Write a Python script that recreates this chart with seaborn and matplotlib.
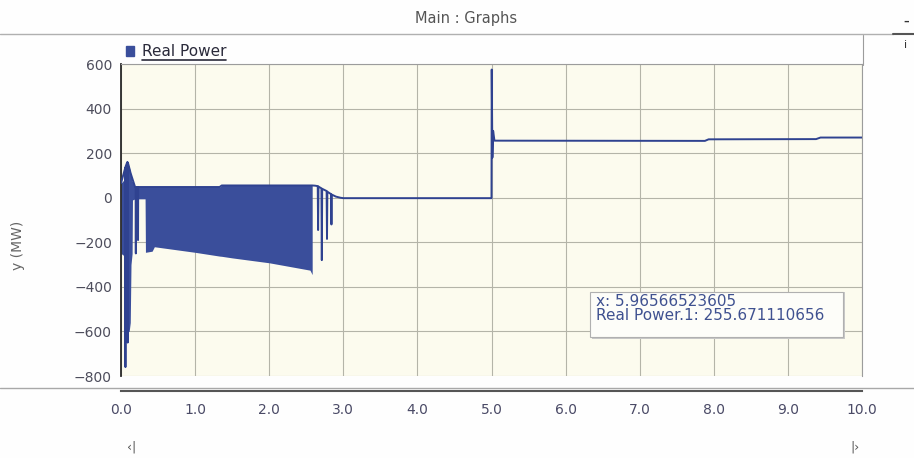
import matplotlib
matplotlib.use("Agg")
import matplotlib.pyplot as plt
from matplotlib.lines import Line2D
from matplotlib.patches import Patch, Rectangle
from matplotlib.ticker import FormatStrFormatter
import pandas as pd
import seaborn as sns

# ---- data -------------------------------------------------------------
# Real power trace: time (s) and power (MW), including the switching spikes
time_s = [0.000, 0.058, 0.060, 0.062, 0.085, 0.090, 0.093, 0.130, 0.190,
          0.198, 0.200, 0.202, 0.228, 0.230, 0.232, 0.330, 1.330, 1.360,
          2.580, 2.620, 2.655, 2.660, 2.665, 2.705, 2.710, 2.715, 2.775,
          2.780, 2.785, 2.835, 2.840, 2.845, 2.900, 2.960, 3.000, 5.000,
          5.003, 5.012, 5.022, 5.040, 5.96566523605, 7.880, 7.930, 9.380,
          9.440, 10.000]
power_mw = [65, 135, -760, 140, 160, -650, 158, 110, 48,
            48, -250, 48, 48, -190, 48, 48, 48, 55,
            55, 54, 52, -145, 50, 42, -280, 40, 30,
            -185, 27, 16, -120, 14, 5, 0, -2, -2,
            575, 180, 300, 256, 255.671110656, 255, 262, 263,
            270, 270]

# Envelope of the fast oscillation during the fault period
band_t = [0.00, 0.04, 0.055, 0.07, 0.085, 0.11, 0.125, 0.135, 0.15, 0.155,
          0.19, 0.325, 0.33, 0.42, 0.45, 1.00, 1.33, 1.36, 1.50, 2.00,
          2.55, 2.58]
band_hi = [65, 80, 130, 150, 160, 140, 120, 100, 75, 72,
           48, 48, 48, 48, 48, 48, 48, 55, 55, 55,
           55, 55]
band_lo = [-250, -260, -560, -600, -600, -600, -560, -300, -250, -10,
           -5, -5, -245, -240, -220, -245, -262, -263, -270, -292,
           -325, -345]

# Cursor read-out
cursor_x = 5.96566523605
cursor_y = 255.671110656

x_ticks = [0, 1, 2, 3, 4, 5, 6, 7, 8, 9, 10]
y_ticks = [-800, -600, -400, -200, 0, 200, 400, 600]

series_name = "Real Power"
LINE = "#2f4290"
FILL = "#3a4e9b"

# ---- style ------------------------------------------------------------
sns.set_style("white")
plt.rcParams["font.family"] = ["DejaVu Sans"]

W, H = 914, 458
fig = plt.figure(figsize=(W / 100, H / 100), dpi=100, facecolor="#fefefe")


def fx(px):
    return px / W


def fy(py):
    return 1 - py / H


ax = fig.add_axes([fx(121), fy(376), fx(862) - fx(121), (376 - 64) / H])
ax.set_facecolor("#fcfbee")

df = pd.DataFrame({"time_s": time_s, "power_mw": power_mw})
ax.fill_between(band_t, band_lo, band_hi, color=FILL, lw=0, zorder=2)
sns.lineplot(data=df, x="time_s", y="power_mw", estimator=None, sort=False,
             color=LINE, lw=1.4, ax=ax, legend=False, zorder=3)

ax.set_xlim(0, 10)
ax.set_ylim(-800, 600)
ax.set_xticks(x_ticks)
ax.set_yticks(y_ticks)
ax.xaxis.set_major_formatter(FormatStrFormatter("%.1f"))
ax.set_xlabel("")
ax.set_ylabel("")
ax.grid(True, color="#b4b4a8", lw=0.8, zorder=0)
ax.set_axisbelow(True)

for s in ("top", "right"):
    ax.spines[s].set_color("#9c9c9c")
    ax.spines[s].set_linewidth(0.8)
ax.spines["left"].set_color("#2a2a2a")
ax.spines["left"].set_linewidth(1.3)
ax.spines["bottom"].set_position(("outward", 10.8))
ax.spines["bottom"].set_color("#555555")
ax.spines["bottom"].set_linewidth(1.5)

ax.tick_params(axis="y", direction="out", length=3, width=1, color="#2a2a2a",
               labelsize=10, labelcolor="#4d4d5c", pad=3.5)
ax.tick_params(axis="x", direction="out", length=3.6, width=1, color="#333333",
               labelsize=10, labelcolor="#4a4a66", pad=5)

# legend above the plot area
leg = ax.legend(handles=[Patch(facecolor=FILL, edgecolor=FILL, label=series_name)],
                loc="lower left", bbox_to_anchor=(0.0, 1.0), frameon=False,
                borderaxespad=0.1, borderpad=0.2, handlelength=0.55,
                handleheight=0.55, handletextpad=0.5, fontsize=11)
leg.get_texts()[0].set_color("#2a2a3a")

# frame decorations of the graph panel
fig.add_artist(Line2D([0, fx(893)], [fy(34), fy(34)], color="#b0b0b0", lw=1))
fig.add_artist(Line2D([fx(893), 1], [fy(34), fy(34)], color="#555555", lw=1.5))
fig.add_artist(Line2D([fx(863), fx(863)], [fy(35), fy(65)], color="#9c9c9c", lw=0.8))
fig.add_artist(Line2D([0, 1], [fy(388), fy(388)], color="#a8a8a8", lw=1))

fig.text(fx(466), fy(18), "Main : Graphs", ha="center", va="center",
         fontsize=10.5, color="#555555")
fig.text(fx(18), fy(245), "y (MW)", ha="center", va="center", rotation=90,
         fontsize=10, color="#666666")
fig.text(fx(906), fy(22), "\u2013", ha="center", va="center", fontsize=8,
         color="#333333", fontweight="bold")
fig.text(fx(906), fy(45), "i", ha="center", va="center", fontsize=8,
         color="#333333")
fig.text(fx(132), fy(447), "\u2039|", ha="center", va="center", fontsize=9,
         color="#555555")
fig.text(fx(855), fy(447), "|\u203a", ha="center", va="center", fontsize=9,
         color="#555555")

# cursor read-out box
fig.add_artist(Rectangle((fx(592), fy(339)), fx(843) - fx(590), (339 - 292) / H,
                         transform=fig.transFigure, facecolor="#c8c8c8",
                         edgecolor="none", zorder=5))
fig.add_artist(Rectangle((fx(590), fy(337)), fx(843) - fx(590), (337 - 292) / H,
                         transform=fig.transFigure, facecolor="#fdfdf9",
                         edgecolor="#b0b0b0", lw=0.8, zorder=6))
fig.text(fx(596), fy(302), f"x: {cursor_x:.11f}", ha="left", va="center",
         fontsize=11, color="#3f5190", zorder=7)
fig.text(fx(596), fy(316), f"{series_name}.1: {cursor_y:.9f}", ha="left",
         va="center", fontsize=11, color="#3f5190", zorder=7)

# underline the legend entry
fig.canvas.draw()
bb = leg.get_texts()[0].get_window_extent()
fig.add_artist(Line2D([bb.x0 / W, bb.x1 / W], [(bb.y0 - 1) / H, (bb.y0 - 1) / H],
                      color="#2a2a3a", lw=1.2))

fig.savefig("out.png", dpi=100, facecolor=fig.get_facecolor())
